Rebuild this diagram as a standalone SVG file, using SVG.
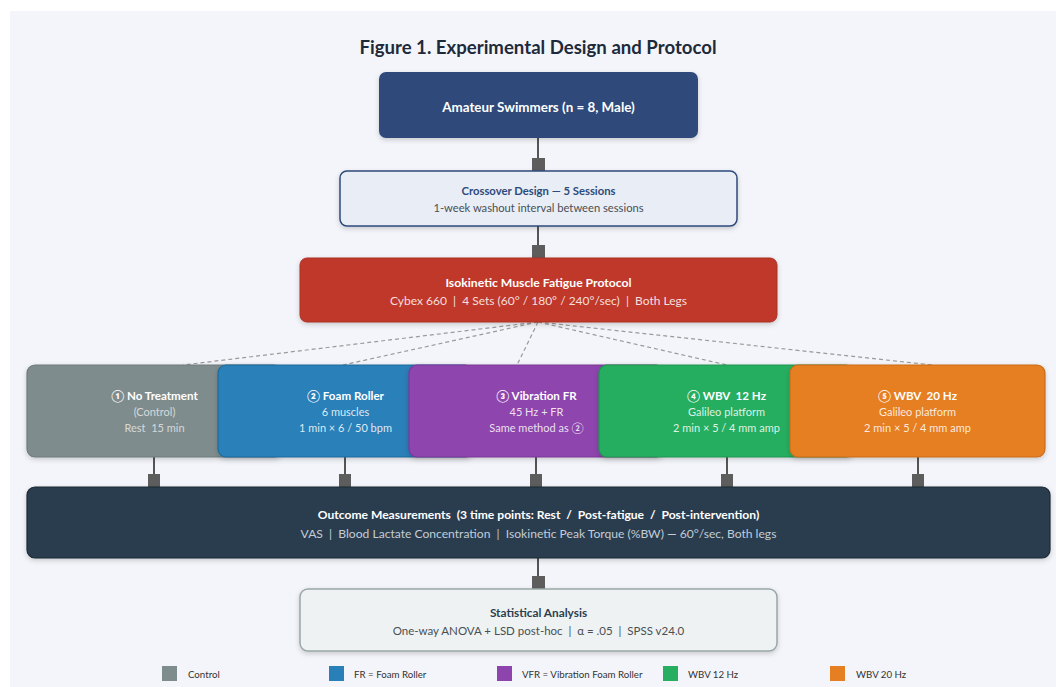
<svg xmlns="http://www.w3.org/2000/svg" width="1056" height="687" viewBox="0 0 1056 687">
  <defs>
    <filter id="shadow" x="-10%" y="-20%" width="120%" height="150%">
      <feDropShadow dx="0" dy="2" stdDeviation="2.5" flood-color="#000" flood-opacity="0.18"/>
    </filter>
    <style>
      text { font-family: Lato, "Noto Sans", "DejaVu Sans", sans-serif; text-anchor: middle; white-space: pre; }
      .title { font-size: 18.6px; font-weight: 700; fill: #1e2a3a; }
      .hd { font-size: 11.6px; font-weight: 700; fill: #ffffff; }
      .sub { font-size: 11px; fill: rgba(255,255,255,0.85); }
      .sub-dim { font-size: 11px; fill: rgba(255,255,255,0.68); }
      .hd-dark { font-size: 11.8px; font-weight: 700; fill: #2c3e50; }
      .sub-dark { font-size: 11.5px; fill: #4a4f55; }
      .legend { font-size: 9.7px; fill: #333; text-anchor: start; }
      .link { stroke: #555; stroke-width: 2; fill: none; }
      .stub { fill: #5d5d5d; }
      .dash { stroke: #9a9a9a; stroke-width: 1.2; stroke-dasharray: 4 3; fill: none; }
      .box { filter: url(#shadow); }
    </style>
  </defs>

  <!-- canvas -->
  <rect x="0" y="0" width="1056" height="687" fill="#ffffff"/>
  <rect x="10" y="11" width="1046" height="676" fill="#f4f5fa"/>

  <text class="title" x="538" y="54">Figure 1. Experimental Design and Protocol</text>

  <!-- connectors -->
  <g id="connectors">
    <line class="link" x1="538" y1="138" x2="538" y2="171"/>
    <rect class="stub" x="532" y="158" width="13" height="13"/>
    <line class="link" x1="538" y1="226" x2="538" y2="258"/>
    <rect class="stub" x="532" y="245" width="13" height="13"/>

    <line class="dash" x1="538" y1="322" x2="183" y2="365"/>
    <line class="dash" x1="538" y1="322" x2="343" y2="365"/>
    <line class="dash" x1="538" y1="322" x2="517" y2="365"/>
    <line class="dash" x1="538" y1="322" x2="727" y2="365"/>
    <line class="dash" x1="538" y1="322" x2="932" y2="365"/>

    <line class="link" x1="154" y1="457" x2="154" y2="487"/>
    <rect class="stub" x="148" y="474" width="12" height="13"/>
    <line class="link" x1="345" y1="457" x2="345" y2="487"/>
    <rect class="stub" x="339" y="474" width="12" height="13"/>
    <line class="link" x1="536" y1="457" x2="536" y2="487"/>
    <rect class="stub" x="530" y="474" width="12" height="13"/>
    <line class="link" x1="727" y1="457" x2="727" y2="487"/>
    <rect class="stub" x="721" y="474" width="12" height="13"/>
    <line class="link" x1="918" y1="457" x2="918" y2="487"/>
    <rect class="stub" x="912" y="474" width="12" height="13"/>

    <line class="link" x1="538" y1="558" x2="538" y2="589"/>
    <rect class="stub" x="532" y="576" width="13" height="13"/>
  </g>

  <g id="participants">
    <rect class="box" x="379" y="72" width="319" height="66" rx="7" fill="#2e4a7a"/>
    <text class="hd" x="538.5" y="112" style="font-size:13.4px">Amateur Swimmers (n = 8, Male)</text>
  </g>

  <g id="design">
    <rect class="box" x="340" y="171" width="397" height="55" rx="7" fill="#e9eef6" stroke="#2e4a7a" stroke-width="1.5"/>
    <text class="hd-dark" x="538.5" y="195" style="fill:#2e4a7a;font-size:11.3px">Crossover Design — 5 Sessions</text>
    <text class="sub-dark" x="538.5" y="212" style="font-size:11.2px">1-week washout interval between sessions</text>
  </g>

  <g id="fatigue">
    <rect class="box" x="300" y="258" width="477" height="64" rx="7" fill="#c0392b" stroke="#a93226" stroke-width="1"/>
    <text class="hd" x="538.5" y="287" style="font-size:12.2px">Isokinetic Muscle Fatigue Protocol</text>
    <text class="sub" x="538.5" y="305" style="font-size:12px">Cybex 660  |  4 Sets (60° / 180° / 240°/sec)  |  Both Legs</text>
  </g>

  <g id="control">
    <rect class="box" x="27" y="365" width="255" height="92" rx="8" fill="#7f8c8d" stroke="#6d7b7c" stroke-width="1.2"/>
    <text class="hd" x="154.5" y="400">① No Treatment</text>
    <text class="sub-dim" x="154.5" y="416">(Control)</text>
    <text class="sub-dim" x="154.5" y="432">Rest  15 min</text>
  </g>

  <g id="foam-roller">
    <rect class="box" x="218" y="365" width="255" height="92" rx="8" fill="#2980b9" stroke="#1f6a9c" stroke-width="1.2"/>
    <text class="hd" x="345.5" y="400">② Foam Roller</text>
    <text class="sub" x="345.5" y="416">6 muscles</text>
    <text class="sub" x="345.5" y="432">1 min × 6 / 50 bpm</text>
  </g>

  <g id="vibration-fr">
    <rect class="box" x="409" y="365" width="255" height="92" rx="8" fill="#8e44ad" stroke="#7a3996" stroke-width="1.2"/>
    <text class="hd" x="536.5" y="400">③ Vibration FR</text>
    <text class="sub" x="536.5" y="416">45 Hz + FR</text>
    <text class="sub" x="536.5" y="432">Same method as ②</text>
  </g>

  <g id="wbv-12">
    <rect class="box" x="599" y="365" width="255" height="92" rx="8" fill="#27ae60" stroke="#1f9350" stroke-width="1.2"/>
    <text class="hd" x="726.5" y="400">④ WBV  12 Hz</text>
    <text class="sub" x="726.5" y="416">Galileo platform</text>
    <text class="sub" x="726.5" y="432">2 min × 5 / 4 mm amp</text>
  </g>

  <g id="wbv-20">
    <rect class="box" x="790" y="365" width="255" height="92" rx="8" fill="#e67e22" stroke="#c96d1a" stroke-width="1.2"/>
    <text class="hd" x="917.5" y="400">⑤ WBV  20 Hz</text>
    <text class="sub" x="917.5" y="416">Galileo platform</text>
    <text class="sub" x="917.5" y="432">2 min × 5 / 4 mm amp</text>
  </g>

  <g id="outcomes">
    <rect class="box" x="27" y="487" width="1023" height="71" rx="8" fill="#2c3e50" stroke="#1c2833" stroke-width="1.2"/>
    <text class="hd" x="538.5" y="519" style="font-size:12.1px">Outcome Measurements  (3 time points: Rest  /  Post-fatigue  /  Post-intervention)</text>
    <text class="sub" x="538.5" y="538" style="fill:#c3ccd6;font-size:12.1px">VAS  |  Blood Lactate Concentration  |  Isokinetic Peak Torque (%BW) — 60°/sec, Both legs</text>
  </g>

  <g id="statistics">
    <rect class="box" x="300" y="589" width="477" height="62" rx="8" fill="#eef2f2" stroke="#9aa6a7" stroke-width="1.5"/>
    <text class="hd-dark" x="538.5" y="617">Statistical Analysis</text>
    <text class="sub-dark" x="538.5" y="635">One-way ANOVA + LSD post-hoc  |  α = .05  |  SPSS v24.0</text>
  </g>

  <g id="legend">
    <rect x="162" y="666" width="15" height="15" fill="#7f8c8d"/>
    <text class="legend" x="188" y="678">Control</text>
    <rect x="329" y="666" width="15" height="15" fill="#2980b9"/>
    <text class="legend" x="354" y="678">FR = Foam Roller</text>
    <rect x="497" y="666" width="15" height="15" fill="#8e44ad"/>
    <text class="legend" x="522" y="678">VFR = Vibration Foam Roller</text>
    <rect x="663" y="666" width="15" height="15" fill="#27ae60"/>
    <text class="legend" x="688" y="678">WBV 12 Hz</text>
    <rect x="830" y="666" width="15" height="15" fill="#e67e22"/>
    <text class="legend" x="856" y="678">WBV 20 Hz</text>
  </g>
</svg>
